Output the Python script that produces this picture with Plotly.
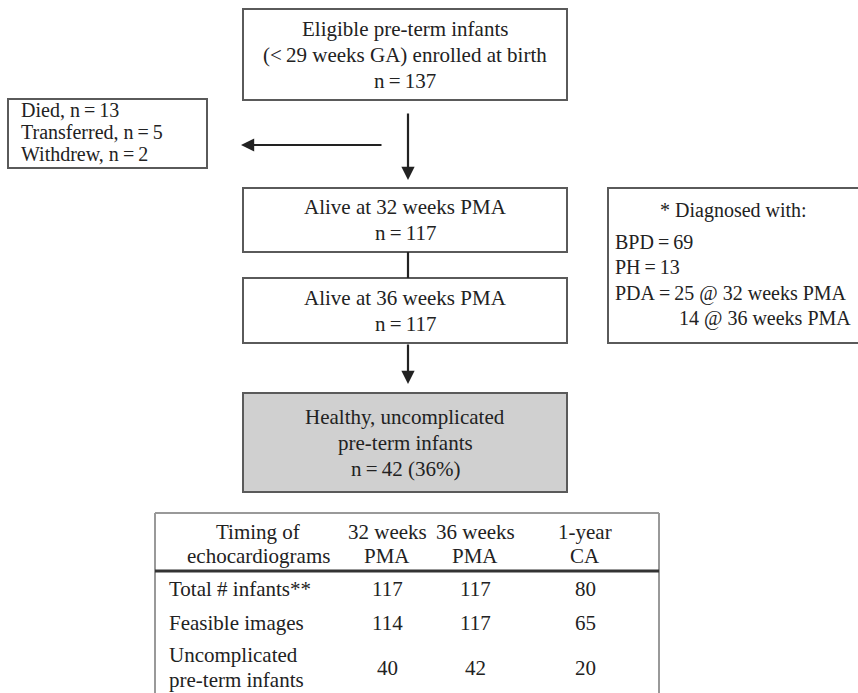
import plotly.graph_objects as go

W, H = 858, 693
FONT = "Liberation Serif, Times New Roman, serif"
TXT = "#222222"
EDGE = "#5a5a5a"
EQ = "\u2009=\u2009"

# Flow boxes
box_names = ["enrolled", "alive32", "alive36", "healthy"]
box_lines = [
    ["Eligible pre-term infants", "(<\u200929 weeks GA) enrolled at birth", "n" + EQ + "137"],
    ["Alive at 32 weeks PMA", "n" + EQ + "117"],
    ["Alive at 36 weeks PMA", "n" + EQ + "117"],
    ["Healthy, uncomplicated", "pre-term infants", "n" + EQ + "42 (36%)"],
]
box_x0 = [243, 243, 243, 243]
box_x1 = [567, 567, 567, 567]
box_y0 = [9, 188, 278, 393]
box_y1 = [100, 252, 343, 492]
box_fill = ["white", "white", "white", "#d0d0d0"]

excluded_lines = ["Died, n" + EQ + "13", "Transferred, n" + EQ + "5", "Withdrew, n" + EQ + "2"]
diag_title = "* Diagnosed with:"
diag_lines = ["BPD" + EQ + "69", "PH" + EQ + "13", "PDA" + EQ + "25 @ 32 weeks PMA", "14 @ 36 weeks PMA"]

# Table
tbl_header = [["Timing of", "echocardiograms"], ["32 weeks", "PMA"], ["36 weeks", "PMA"], ["1-year", "CA"]]
tbl_rows = [["Total # infants**"], ["Feasible images"], ["Uncomplicated", "pre-term infants"]]
tbl_32 = [117, 114, 40]
tbl_36 = [117, 117, 42]
tbl_1y = [80, 65, 20]

fig = go.Figure()
shapes = []
ann = []
FS = 21
LH = 26

def txt(x, y, s, align="center", xanchor="center", size=FS):
    ann.append(dict(x=x, y=y, xref="x", yref="y", text=s, showarrow=False,
                    xanchor=xanchor, yanchor="middle", align=align,
                    font=dict(family=FONT, size=size, color=TXT)))

for i in range(len(box_names)):
    x0, x1, y0, y1 = box_x0[i], box_x1[i], box_y0[i], box_y1[i]
    shapes.append(dict(type="rect", x0=x0, x1=x1, y0=y0, y1=y1, xref="x", yref="y",
                       line=dict(color=EDGE, width=2), fillcolor=box_fill[i], layer="below"))
    lines = box_lines[i]
    cy = (y0 + y1) / 2
    n = len(lines)
    for k, s in enumerate(lines):
        txt((x0 + x1) / 2, cy + (k - (n - 1) / 2) * LH, s)

# Excluded box
shapes.append(dict(type="rect", x0=8, x1=207, y0=99, y1=168, xref="x", yref="y",
                   line=dict(color=EDGE, width=2), fillcolor="white", layer="below"))
for k, s in enumerate(excluded_lines):
    txt(19, 110 + k * 22, s, xanchor="left", align="left", size=20)

# Diagnosis box
shapes.append(dict(type="rect", x0=608, x1=870, y0=188, y1=343, xref="x", yref="y",
                   line=dict(color=EDGE, width=2), fillcolor="white", layer="below"))
txt(733, 210, diag_title, size=20)
diag_y = [242, 267, 293, 318]
diag_x = [613, 613, 613, 677]
for s, x, y in zip(diag_lines, diag_x, diag_y):
    txt(x, y, s, xanchor="left", align="left", size=20)

# Arrows / connectors
ARW = "#222222"
def arrow(x0, y0, x1, y1):
    ann.append(dict(x=x1, y=y1, ax=x0, ay=y0, xref="x", yref="y", axref="x", ayref="y",
                    text="", showarrow=True, arrowhead=2, arrowsize=1.2, arrowwidth=2.2,
                    arrowcolor=ARW, standoff=0))

arrow(408, 112, 408, 180)
arrow(383, 145, 241, 145)
shapes.append(dict(type="line", x0=408, x1=408, y0=252, y1=278, xref="x", yref="y",
                   line=dict(color=ARW, width=2.2)))
arrow(408, 343, 408, 384)

# Table
tx0, tx1, ty0 = 155, 659, 513
for (a0, a1, b0, b1) in [(tx0, tx1, ty0, ty0), (tx0, tx0, ty0, H + 5), (tx1, tx1, ty0, H + 5)]:
    shapes.append(dict(type="line", x0=a0, x1=a1, y0=b0, y1=b1, xref="x", yref="y",
                       line=dict(color="#999999", width=2)))
shapes.append(dict(type="line", x0=tx0, x1=tx1, y0=571, y1=571, xref="x", yref="y",
                   line=dict(color="#333333", width=3)))

col_x = [258, 387, 475, 585]
for cx, lines in zip(col_x, tbl_header):
    txt(cx, 532, lines[0])
    txt(cx, 556, lines[1])

row_y = [[589], [623], [655, 680]]
row_c = [589, 623, 668]
for lines, ys, yc, a, b, c in zip(tbl_rows, row_y, row_c, tbl_32, tbl_36, tbl_1y):
    for s, y in zip(lines, ys):
        txt(167, y, s, xanchor="left", align="left")
    txt(col_x[1], yc, str(a))
    txt(col_x[2], yc, str(b))
    txt(col_x[3], yc, str(c))

fig.update_layout(
    width=W, height=H, margin=dict(l=0, r=0, t=0, b=0),
    paper_bgcolor="white", plot_bgcolor="white",
    xaxis=dict(range=[0, W], visible=False, fixedrange=True),
    yaxis=dict(range=[H, 0], visible=False, fixedrange=True),
    shapes=shapes, annotations=ann, showlegend=False,
)
fig.write_html("out.html", config={"displayModeBar": False},
               post_script="document.body.style.margin='0';document.body.style.overflow='hidden';")
